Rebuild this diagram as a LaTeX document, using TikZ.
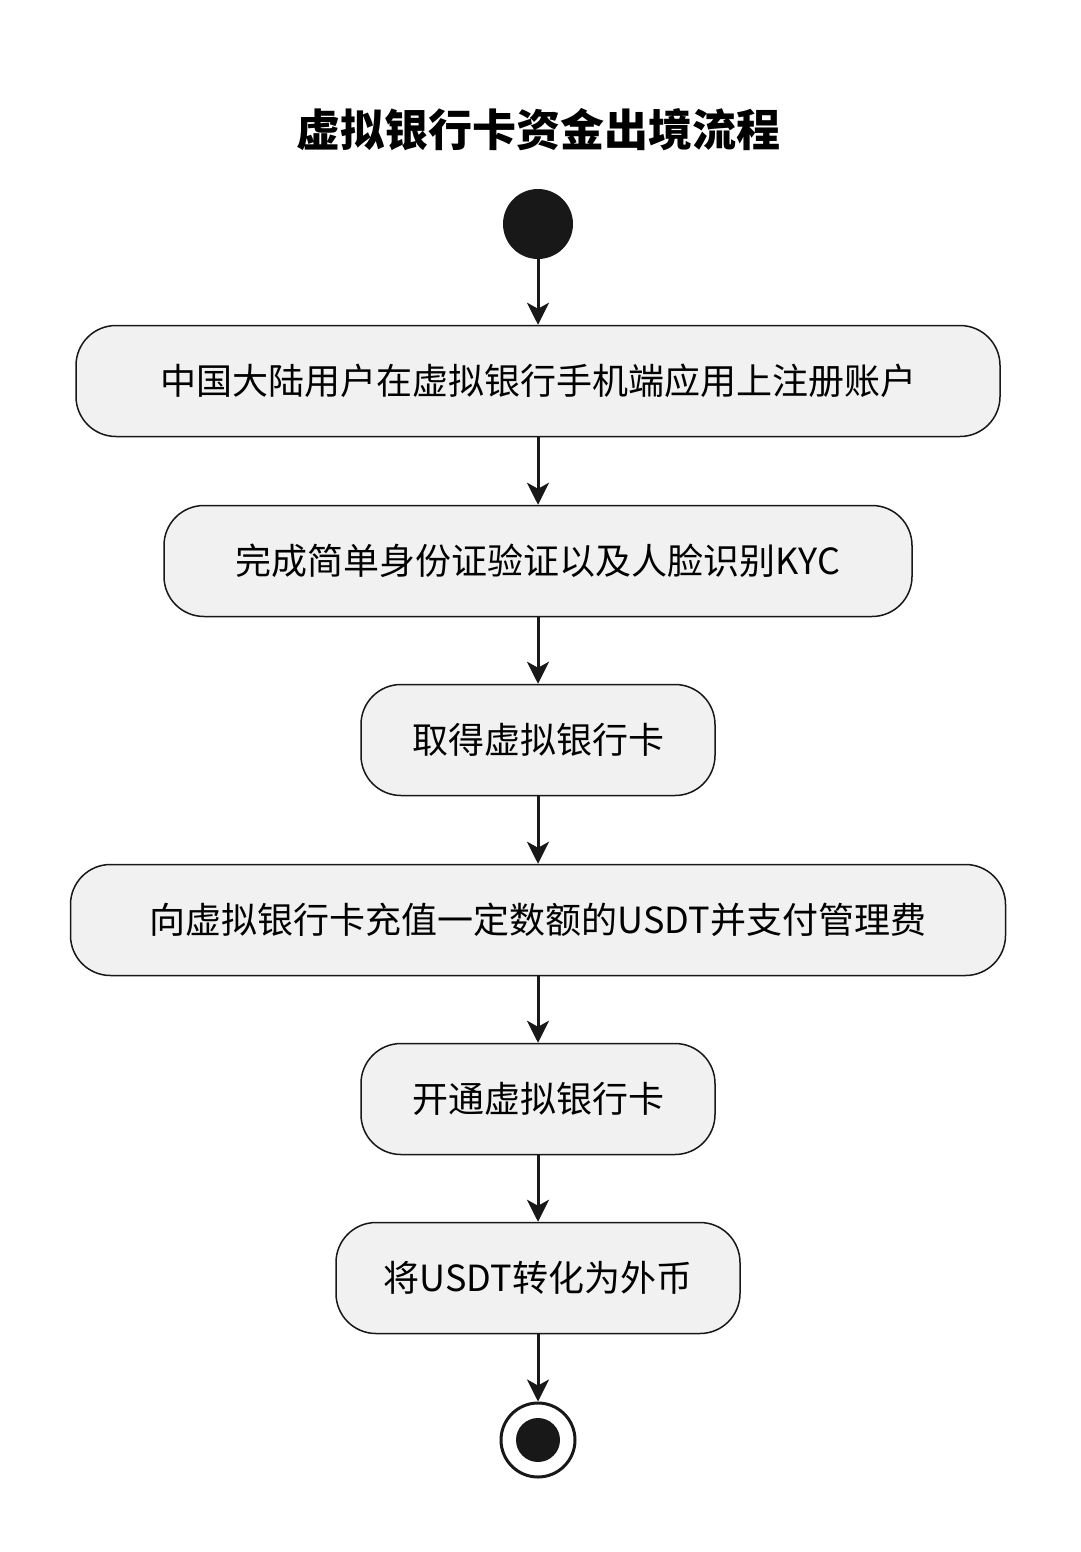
\documentclass[tikz,border=0pt]{standalone}
\usepackage{fontspec}
\setmainfont{Noto Sans CJK SC}
\usetikzlibrary{arrows.meta}
\definecolor{boxfill}{HTML}{F1F1F1}
\definecolor{ink}{HTML}{181818}
\begin{document}
\begin{tikzpicture}[x=1pt,y=-1pt,
  act/.style={draw=ink,line width=1.5pt,fill=boxfill,rounded corners=40pt,minimum height=111pt,inner sep=0pt,font=\fontsize{36}{40}\selectfont},
  flow/.style={draw=ink,line width=3pt,-{Stealth[length=22pt,width=22pt,inset=6pt]}}]
\useasboundingbox[fill=white] (0,0) rectangle (1080,1552);
\node[font=\fontsize{44}{50}\selectfont\bfseries] (title) at (538,130) {虚拟银行卡资金出境流程};
\node[circle,fill=ink,minimum size=70pt,inner sep=0pt] (start) at (538,224) {};
\node[act,minimum width=924pt] (a1) at (538,381) {中国大陆用户在虚拟银行手机端应用上注册账户};
\node[act,minimum width=748pt] (a2) at (538,561) {完成简单身份证验证以及人脸识别KYC};
\node[act,minimum width=354pt] (a3) at (538,740) {取得虚拟银行卡};
\node[act,minimum width=935pt] (a4) at (538,920) {向虚拟银行卡充值一定数额的USDT并支付管理费};
\node[act,minimum width=354pt] (a5) at (538,1099) {开通虚拟银行卡};
\node[act,minimum width=404pt] (a6) at (538,1278) {将USDT转化为外币};
\node[circle,draw=ink,line width=3pt,fill=white,minimum size=74pt,inner sep=0pt] (end) at (538,1440) {};
\node[circle,fill=ink,minimum size=44pt,inner sep=0pt] at (end) {};
\draw[flow] (start) -- (a1);
\draw[flow] (a1) -- (a2);
\draw[flow] (a2) -- (a3);
\draw[flow] (a3) -- (a4);
\draw[flow] (a4) -- (a5);
\draw[flow] (a5) -- (a6);
\draw[flow] (a6) -- (end);
\end{tikzpicture}
\end{document}
